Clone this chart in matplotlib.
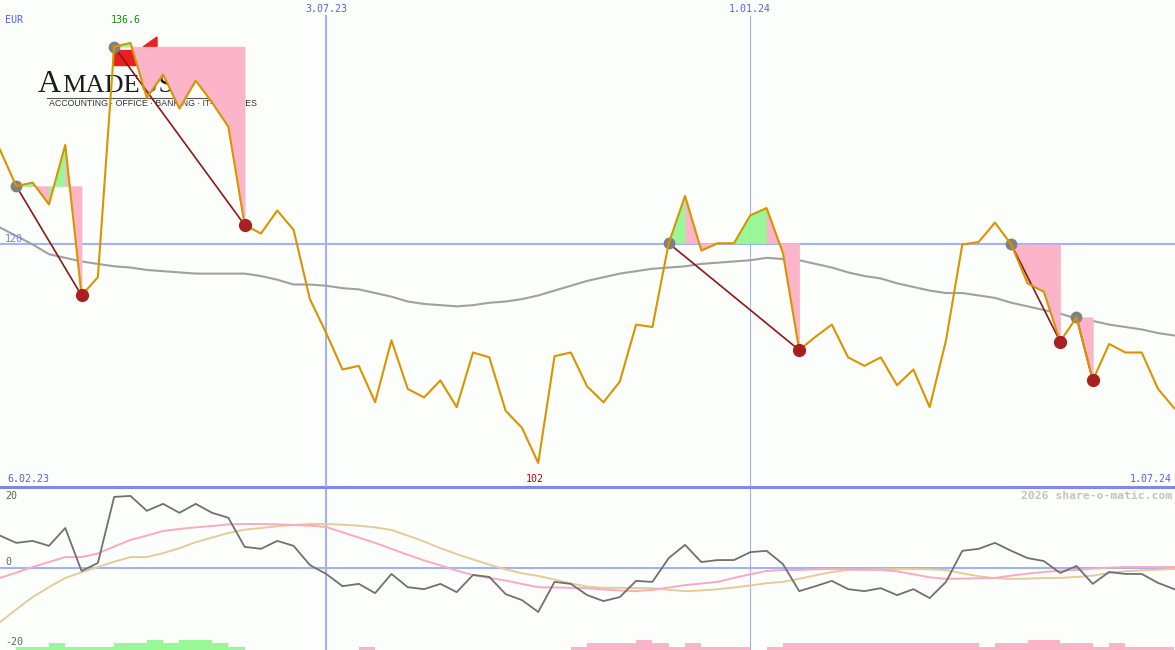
import numpy as np
import matplotlib
matplotlib.use("Agg")
import matplotlib.pyplot as plt
from matplotlib.patches import Polygon

# weekly closes (EUR), index 0 = first week shown
price = [127.8, 124.8, 125.1, 123.3, 128.2, 115.8, 117.3, 136.3, 136.6, 132.1,
         134.0, 131.2, 133.5, 131.7, 129.7, 121.6, 120.9, 122.8, 121.2, 115.5,
         112.7, 109.7, 110.0, 107.0, 112.1, 108.1, 107.4, 108.8, 106.6, 111.1,
         110.7, 106.3, 104.9, 102.0, 110.8, 111.1, 108.3, 107.0, 108.7, 113.4,
         113.2, 120.1, 124.0, 119.5, 120.1, 120.1, 122.4, 123.0, 119.3, 111.3,
         112.4, 113.4, 110.7, 110.0, 110.7, 108.4, 109.7, 106.6, 112.1, 120.0,
         120.2, 121.8, 120.0, 116.8, 116.1, 112.0, 114.0, 108.8, 111.8, 111.1,
         111.1, 108.1, 106.5]

ma = [121.4, 120.7, 120.0, 119.2, 118.9, 118.6, 118.4, 118.2, 118.1, 117.9,
      117.8, 117.7, 117.6, 117.6, 117.6, 117.6, 117.4, 117.1, 116.7, 116.7,
      116.6, 116.4, 116.3, 116.0, 115.7, 115.3, 115.1, 115.0, 114.9, 115.0,
      115.2, 115.3, 115.5, 115.8, 116.2, 116.6, 117.0, 117.3, 117.6, 117.8,
      118.0, 118.1, 118.2, 118.4, 118.5, 118.6, 118.7, 118.9, 118.8, 118.7,
      118.4, 118.1, 117.7, 117.4, 117.2, 116.8, 116.5, 116.2, 116.0, 116.0,
      115.8, 115.6, 115.2, 114.9, 114.6, 114.3, 113.9, 113.7, 113.4, 113.2,
      113.0, 112.7, 112.5]

# signals: entry (grey dot) -> exit (red dot), colour of each week in between
buy_idx = [1, 7, 41, 62, 66]
sell_idx = [5, 15, 49, 65, 67]
seg_colors = [
    ["g", "p", "g", "p"],
    ["g", "p", "p", "p", "p", "p", "p", "p"],
    ["g", "p", "p", "p", "g", "g", "p", "p"],
    ["p", "p", "p"],
    ["p"],
]

# lower panel oscillators
osc = [9.8, 7.6, 8.2, 6.7, 12.1, -0.9, 1.5, 21.5, 21.8, 17.3,
       19.4, 16.7, 19.4, 16.7, 15.2, 6.4, 5.8, 8.2, 6.7, 0.9,
       -1.8, -5.5, -4.8, -7.6, -1.8, -5.8, -6.4, -4.8, -7.3, -2.1,
       -2.7, -7.9, -9.7, -13.3, -4.2, -4.8, -8.2, -10.0, -8.8, -3.9,
       -4.2, 3.0, 7.0, 1.8, 2.4, 2.4, 4.8, 5.2, 1.2, -7.0,
       -5.5, -3.9, -6.4, -7.0, -6.1, -8.2, -6.4, -9.1, -4.2, 5.2,
       5.8, 7.6, 5.2, 3.0, 2.1, -1.5, 0.6, -4.8, -1.2, -1.8,
       -1.8, -4.5, -6.4]
sig_fast = [-3.0, -1.4, 0.3, 1.8, 3.3, 3.3, 4.4, 6.5, 8.5, 9.8,
            11.2, 11.8, 12.3, 12.7, 13.2, 13.3, 13.3, 13.2, 13.0, 12.8,
            12.4, 10.8, 9.2, 7.6, 5.8, 4.0, 2.3, 0.8, -0.8, -2.1,
            -3.0, -3.8, -4.8, -5.8, -5.9, -6.0, -6.1, -6.5, -6.8, -7.0,
            -6.6, -5.9, -5.2, -4.7, -4.2, -3.0, -1.9, -0.9, -0.6, -0.6,
            -0.4, -0.3, -0.4, -0.5, -0.6, -1.0, -1.9, -2.8, -3.3, -3.2,
            -3.1, -3.0, -2.3, -1.7, -1.2, -0.8, -0.6, -0.2, 0.1, 0.3,
            0.3, 0.3, 0.3]
sig_slow = [-16.4, -12.5, -8.8, -5.8, -3.0, -1.3, 0.3, 1.9, 3.3, 3.3,
            4.5, 6.0, 7.8, 9.2, 10.6, 11.6, 12.1, 12.6, 13.0, 13.3,
            13.3, 13.1, 12.8, 12.3, 11.5, 9.8, 8.0, 6.0, 4.2, 2.6,
            1.0, -0.4, -1.6, -2.4, -3.5, -4.7, -5.6, -6.0, -6.0, -6.1,
            -6.1, -6.6, -7.0, -6.8, -6.4, -5.9, -5.3, -4.6, -4.2, -3.3,
            -2.2, -1.2, -0.6, -0.5, -0.4, -0.3, -0.3, -0.4, -0.6, -1.6,
            -2.5, -3.1, -3.3, -3.2, -3.0, -3.0, -2.7, -2.3, -1.5, -1.0,
            -0.7, -0.5, -0.3]
hist = [0, 1, 1, 2, 1, 1, 1, 2, 2, 3, 2, 3, 3, 2, 1, 0, 0, 0, 0, 0,
        0, 0, -1, 0, 0, 0, 0, 0, 0, 0, 0, 0, 0, 0, 0, -1, -2, -2, -2, -3,
        -2, -1, -2, -1, -1, -1, 0, -1, -2, -2, -2, -2, -2, -2, -2, -2, -2, -2,
        -2, -2, -1, -2, -2, -3, -3, -2, -2, -1, -2, -1, -1, -1, 0]

date_labels = ["3.07.23", "1.01.24"]
date_idx = [20, 46]
first_date, last_date = "6.02.23", "1.07.24"

BG = "#fcfefc"
BLUE_LINE = "#a2b2f4"
ORANGE = "#d99400"
GREEN_F = "#98f898"
PINK_F = "#fbb4c8"
mono = "DejaVu Sans Mono"

fig = plt.figure(figsize=(11.75, 6.5), dpi=100, facecolor=BG)
H = 650.0
ax = fig.add_axes([0, 163 / H, 1, 487 / H])
ax2 = fig.add_axes([0, 0, 1, 163 / H], facecolor=BG)
ax.set_zorder(5)
ax.patch.set_alpha(0)

x = np.arange(len(price))
p = np.array(price)
xmax = 72.04

# ---- logo watermark (under the chart)
fig.text(38 / 1175, 1 - 84 / H, "A", fontsize=23, family="Liberation Serif",
         color="#1c1c1c", va="center", ha="left", zorder=1)
fig.text(62 / 1175, 1 - 85.5 / H, "MADEUS", fontsize=19, family="Liberation Serif",
         color="#1c1c1c", va="center", ha="left", zorder=1)
fig.add_artist(plt.Line2D([47 / 1175, 215 / 1175], [1 - 98 / H, 1 - 98 / H],
                          color="#555555", lw=0.8, zorder=1))
fig.text(49 / 1175, 1 - 104 / H, "ACCOUNTING \u00b7 OFFICE \u00b7 BANKING \u00b7 IT-SERVICES",
         fontsize=6.3, family="Liberation Sans", color="#333333", va="center", ha="left",
         zorder=1)
fig.add_artist(Polygon([[113 / 1175, 1 - 50 / H], [137 / 1175, 1 - 50 / H],
                        [137 / 1175, 1 - 65 / H], [113 / 1175, 1 - 65 / H]],
                       closed=True, color="#e82020", transform=fig.transFigure, zorder=1))
fig.add_artist(Polygon([[143 / 1175, 1 - 47 / H], [157 / 1175, 1 - 37 / H],
                        [157 / 1175, 1 - 47 / H]],
                       closed=True, color="#e82020", transform=fig.transFigure, zorder=1))

# ---- top panel
ax.set_xlim(0, xmax)
ax.set_ylim(100.02, 140.14)
ax.axhline(120, color=BLUE_LINE, lw=1.5, zorder=1)
ax.axvline(date_idx[0], ymax=(487 - 16) / 487, color=BLUE_LINE, lw=1.5, zorder=1)
ax.axvline(date_idx[1], ymax=(487 - 16) / 487, color="#a8b0d8", lw=0.8, zorder=1)
ax.plot(x, ma, color="#a0a0a0", lw=1.5, zorder=2)

for b, s, cols in zip(buy_idx, sell_idx, seg_colors):
    level = p[b]
    for k, c in zip(range(b, s), cols):
        col = GREEN_F if c == "g" else PINK_F
        xs = np.array([k, k + 1])
        ax.fill_between(xs, p[k:k + 2], level, facecolor=col, edgecolor=col,
                        lw=0.4, zorder=3)
    ax.plot([b, s], [p[b], p[s]], color="#8c1818", lw=1.2, zorder=4)

ax.plot(x, p, color=ORANGE, lw=1.5, zorder=5)
ax.plot(buy_idx, p[buy_idx], "o", color="#808080", ms=7.5, zorder=4)
ax.plot(sell_idx, p[sell_idx], "o", color="#a82020", ms=8.5, zorder=6)

for lab, i in zip(date_labels, date_idx):
    ax.text(i, 1 - 9 / 487, lab, transform=ax.get_xaxis_transform(), ha="center",
            va="center", color="#5060f0", fontsize=7.2, family=mono)
ax.text(5 / 1175, 1 - 20 / 487, "EUR", transform=ax.transAxes, color="#5060f0",
        fontsize=7.2, family=mono, va="center")
imax = int(np.argmax(p))
ax.text(imax - 0.3, 1 - 20 / 487, f"{p.max():.1f}", transform=ax.get_xaxis_transform(),
        ha="center", va="center", color="#109010", fontsize=7.2, family=mono)
imin = int(np.argmin(p))
ax.text(imin - 0.2, 1 - 479 / 487, f"{p.min():.0f}", transform=ax.get_xaxis_transform(),
        ha="center", va="center", color="#a01010", fontsize=7.2, family=mono)
ax.text(5 / 1175, 120, "120", color="#7080f0", fontsize=7.2, family=mono, va="bottom",
        transform=ax.get_yaxis_transform())
ax.text(7 / 1175, 1 - 479 / 487, first_date, transform=ax.transAxes, color="#5060f0",
        fontsize=7.2, family=mono, va="center")
ax.text(1 - 3 / 1175, 1 - 479 / 487, last_date, transform=ax.transAxes, color="#5060f0",
        fontsize=7.2, family=mono, va="center", ha="right")
ax.set_xticks([])
ax.set_yticks([])
for sp in ax.spines.values():
    sp.set_visible(False)

# ---- bottom panel
ymin2, ymax2 = -24.8, 24.5
ax2.set_xlim(0, xmax)
ax2.set_ylim(ymin2, ymax2)
ax2.axhline(0, color=BLUE_LINE, lw=1.5, zorder=1)
ax2.axvline(date_idx[0], color=BLUE_LINE, lw=1.5, zorder=1)
ax2.axvline(date_idx[1], color="#a8b0d8", lw=0.8, zorder=1)
h = np.array(hist)
ax2.bar(x, np.abs(h) * 1.03, width=1, align="edge", bottom=ymin2,
        color=np.where(h > 0, GREEN_F, PINK_F), lw=0, zorder=2)
ax2.plot(x, sig_slow, color="#e4cc98", lw=1.4, zorder=3)
ax2.plot(x, sig_fast, color="#f8aac4", lw=1.4, zorder=3)
ax2.plot(x, osc, color="#707070", lw=1.3, zorder=4)
for val, ypx in zip([20, 0, -20], [496, 562, 642]):
    ax2.text(5 / 1175, 1 - (ypx - 487) / 163, str(val), transform=ax2.transAxes,
             color="#606060", fontsize=7.2, family=mono, va="center")
ax2.text(1 - 3 / 1175, 1 - 9 / 163, "2026 share-o-matic.com", transform=ax2.transAxes,
         color="#c4c4c4", fontsize=8.2, family=mono, weight="bold", ha="right", va="center")
ax2.set_xticks([])
ax2.set_yticks([])
for name, sp in ax2.spines.items():
    sp.set_visible(name == "top")
ax2.spines["top"].set_color("#7a8aea")
ax2.spines["top"].set_linewidth(2.2)

fig.savefig("out.png", dpi=100, facecolor=BG)
